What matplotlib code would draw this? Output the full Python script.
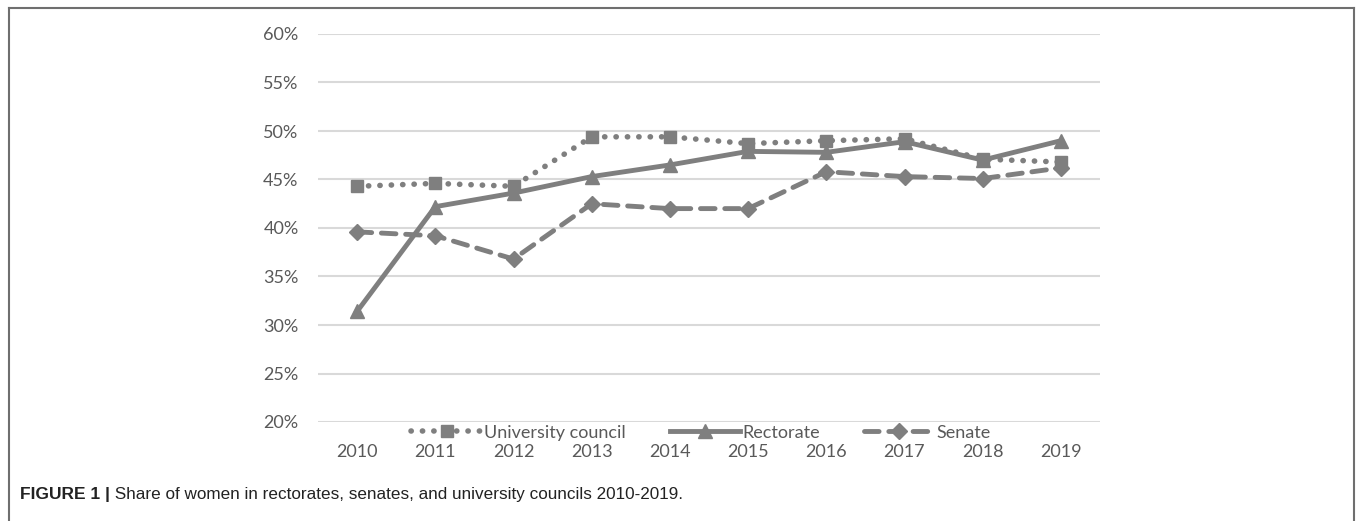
import matplotlib
matplotlib.use("Agg")
import matplotlib.pyplot as plt
from matplotlib.lines import Line2D

years = ["2010", "2011", "2012", "2013", "2014", "2015", "2016", "2017", "2018", "2019"]
university_council = [44.3, 44.6, 44.3, 49.4, 49.4, 48.7, 49.0, 49.2, 47.1, 46.8]
rectorate = [31.4, 42.2, 43.6, 45.3, 46.5, 47.9, 47.8, 48.9, 47.0, 49.0]
senate = [39.6, 39.2, 36.8, 42.5, 42.0, 42.0, 45.8, 45.3, 45.1, 46.2]
yticks = [20, 25, 30, 35, 40, 45, 50, 55, 60]
caption_bold = "FIGURE 1 |"
caption_text = " Share of women in rectorates, senates, and university councils 2010-2019."

tick_font = "Lato"

W, H = 1357, 521
fig = plt.figure(figsize=(W / 100, H / 100), dpi=100)
ax = fig.add_axes([318 / W, 1 - 422 / H, (1100 - 318) / W, (422 - 34) / H])

x = list(range(len(years)))
col = "#7f7f7f"
ax.plot(x, university_council, color=col, lw=4.0, linestyle=(0, (0.05, 2.0)),
        dash_capstyle="round", marker="s", ms=9, label="University council")
ax.plot(x, rectorate, color=col, lw=3.5, marker="^", ms=10, label="Rectorate")
ax.plot(x, senate, color=col, lw=3.5, linestyle=(0, (3.0, 2.0)),
        dash_capstyle="round", marker="D", ms=8, label="Senate")

ax.set_xlim(-0.5, len(years) - 0.5)
ax.set_ylim(20, 60)
ax.set_yticks(yticks)
ax.set_yticklabels([f"{v}%" for v in yticks], fontfamily=tick_font, fontsize=13, color="#595959")
ax.set_xticks(x)
ax.set_xticklabels(years, fontfamily=tick_font, fontsize=13, color="#595959")
ax.tick_params(axis="both", length=0)
ax.tick_params(axis="x", pad=16)
ax.tick_params(axis="y", pad=14)
ax.grid(axis="y", color="#d9d9d9", lw=1.5)
ax.set_axisbelow(True)
for s in ax.spines.values():
    s.set_visible(False)

leg = ax.legend(loc="upper center", bbox_to_anchor=(0.49, 0.012), ncol=3, frameon=False,
                prop={"family": tick_font, "size": 13}, handlelength=3.9,
                handletextpad=0.15, columnspacing=2.4, borderaxespad=0)
for t in leg.get_texts():
    t.set_color("#595959")

# frame
fc = "#6f6f6f"
fig.add_artist(Line2D([9 / W, 9 / W], [0, 1 - 8 / H], color=fc, lw=1.5))
fig.add_artist(Line2D([1354 / W, 1354 / W], [0, 1 - 8 / H], color=fc, lw=1.5))
fig.add_artist(Line2D([9 / W, 1354 / W], [1 - 8 / H, 1 - 8 / H], color=fc, lw=1.5))

# caption
t1 = fig.text(20 / W, 1 - 499 / H, caption_bold, fontfamily="Liberation Sans", fontweight="bold",
              fontsize=12.5, va="baseline", ha="left", color="#222222")
fig.canvas.draw()
bb = t1.get_window_extent()
fig.text(bb.x1 / W, 1 - 499 / H, caption_text, fontfamily="Liberation Sans", fontsize=12.3,
         va="baseline", ha="left", color="#222222")

fig.savefig("out.png", dpi=100)
